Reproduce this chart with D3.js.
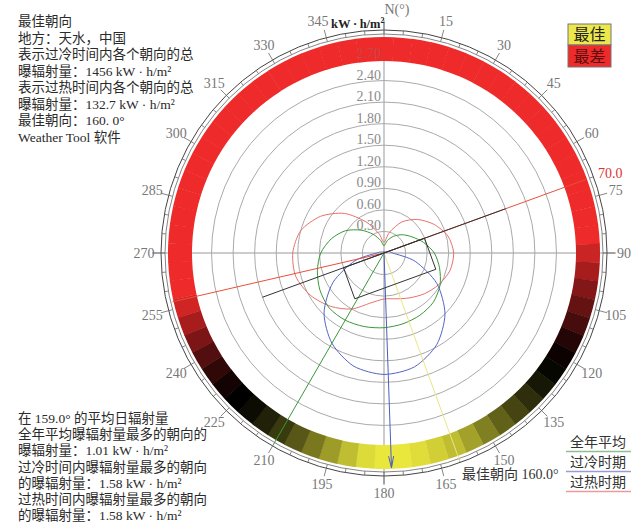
<!DOCTYPE html>
<html>
<head>
<meta charset="utf-8">
<script src="https://cdn.jsdelivr.net/npm/d3@7"></script>
<style>
  body { margin: 0; background: #fff; }
  svg text { font-family: "Liberation Serif", "Noto Sans CJK SC", serif; }
</style>
</head>
<body>
<script>
// ring values (kW·h/m²) and their labels
var ringValues = [0.3, 0.6, 0.9, 1.2, 1.5, 1.8, 2.1, 2.4, 2.7];
var ringLabels = ["0.30", "0.60", "0.90", "1.20", "1.50", "1.80", "2.10", "2.40", "2.70"];

// compass labels every 15 degrees
var compassAngles = [0, 15, 30, 45, 60, 75, 90, 105, 120, 135, 150, 165, 180, 195, 210, 225, 240, 255, 270, 285, 300, 315, 330, 345];
var compassLabels = ["N(°)", "15", "30", "45", "60", "75", "90", "105", "120", "135", "150", "165", "180", "195", "210", "225", "240", "255", "270", "285", "300", "315", "330", "345"];

// radiation curves, one value every 15 degrees (same angles as compassAngles)
var annualAvg = [0.10, 0.18, 0.27, 0.36, 0.45, 0.57, 0.70, 0.80, 0.90, 0.97, 1.00, 1.02, 1.04, 1.06, 1.08, 1.08, 1.03, 0.96, 0.88, 0.76, 0.62, 0.45, 0.30, 0.18];
var underheated = [0.02, 0.02, 0.02, 0.02, 0.03, 0.08, 0.12, 0.45, 0.85, 1.20, 1.47, 1.64, 1.69, 1.63, 1.45, 1.18, 0.82, 0.42, 0.10, 0.05, 0.03, 0.02, 0.02, 0.02];
var overheated = [0.15, 0.30, 0.50, 0.66, 0.80, 0.92, 0.97, 0.95, 0.88, 0.80, 0.72, 0.66, 0.64, 0.72, 0.90, 1.05, 1.18, 1.27, 1.27, 1.20, 1.02, 0.78, 0.50, 0.28];

// band score every 5 degrees: -1 worst (red) .. 0 .. 1 best (yellow)
var bandAngles = d3.range(0, 360, 5);
var bandScore = [
  -1, -1, -1, -1, -1, -1, -1, -1, -1, -1, -1, -1, -1, -1, -1, -1, -1, -1,
  -0.85, -0.7, -0.55, -0.42, -0.3, -0.15, -0.05, 0.03, 0.1, 0.2, 0.3, 0.42, 0.55, 0.7, 0.82, 0.9, 0.96, 1,
  1, 0.95, 0.82, 0.68, 0.52, 0.38, 0.25, 0.14, 0.05, 0, -0.08, -0.2, -0.35, -0.52, -0.7, -0.88,
  -1, -1, -1, -1, -1, -1, -1, -1, -1, -1, -1, -1, -1, -1, -1, -1, -1, -1, -1, -1
];

// directions (degrees)
var bestDir = 160;
var annualDir = 210;
var coldDir = 178;
var hotDirs = [70, 257];
var buildingAxis = 70;
var buildingHalf = 0.6, buildingDepth = 0.46, buildingLine = 1.8;

var width = 642, height = 524,
    cx = 384, cy = 253;

var svg = d3.select("body").append("svg")
    .attr("width", width)
    .attr("height", height);

var g = svg.append("g").attr("transform", "translate(" + cx + "," + cy + ")");

var r = d3.scaleLinear().domain([0, 2.7]).range([0, 194]);
var bandColor = d3.scaleLinear().domain([-1, 0, 1]).range(["#ee2a2a", "#000000", "#e9e63c"]);

function pt(deg, rad) {
  var a = deg * Math.PI / 180;
  return [rad * Math.sin(a), -rad * Math.cos(a)];
}

// axes
g.append("line").attr("x1", -232).attr("x2", 232).attr("y1", 0).attr("y2", 0)
    .attr("stroke", "#999").attr("stroke-width", 1);
g.append("line").attr("x1", 0).attr("x2", 0).attr("y1", -233).attr("y2", 232)
    .attr("stroke", "#999").attr("stroke-width", 1);

// grid rings
g.selectAll(".ring").data(ringValues).enter().append("circle")
    .attr("class", "ring")
    .attr("r", function(d) { return r(d); })
    .attr("fill", "none")
    .attr("stroke", "#aaa")
    .attr("stroke-width", 1);

// colour band
var arc = d3.arc().innerRadius(192).outerRadius(216);
g.selectAll(".seg").data(bandAngles).enter().append("path")
    .attr("class", "seg")
    .attr("d", function(d) {
      return arc({startAngle: (d - 2.5) * Math.PI / 180, endAngle: (d + 2.6) * Math.PI / 180});
    })
    .attr("fill", function(d, i) { return bandColor(bandScore[i]); });

// ring labels
g.selectAll(".rlab").data(ringValues).enter().append("text")
    .attr("x", -3)
    .attr("y", function(d) { return -r(d) - 1; })
    .attr("text-anchor", "end")
    .attr("font-size", "14px")
    .attr("fill", function(d) { return d >= 2.7 ? "#c84646" : "#8a8a8a"; })
    .text(function(d, i) { return ringLabels[i]; });

// outer scale
g.append("circle").attr("r", 219).attr("fill", "none").attr("stroke", "#666").attr("stroke-width", 0.8);
g.append("circle").attr("r", 223).attr("fill", "none").attr("stroke", "#444").attr("stroke-width", 1);
g.selectAll(".mtick").data(d3.range(0, 360, 5)).enter().append("line")
    .attr("x1", function(d) { return pt(d, 219)[0]; })
    .attr("y1", function(d) { return pt(d, 219)[1]; })
    .attr("x2", function(d) { return pt(d, d % 15 === 0 ? 231 : 223)[0]; })
    .attr("y2", function(d) { return pt(d, d % 15 === 0 ? 231 : 223)[1]; })
    .attr("stroke", "#666").attr("stroke-width", 0.8);

g.selectAll(".clab").data(compassAngles).enter().append("text")
    .attr("x", function(d) { return pt(d, 240)[0] + (d === 0 ? 13 : d === 345 ? -4 : 0); })
    .attr("y", function(d) { return pt(d, d === 0 ? 244 : 240)[1]; })
    .attr("text-anchor", "middle")
    .attr("dominant-baseline", "central")
    .attr("font-size", "14px")
    .attr("fill", "#777")
    .text(function(d, i) { return compassLabels[i]; });

// unit label
var unit = svg.append("text").attr("x", 331).attr("y", 28)
    .attr("font-size", "12.5px").attr("font-weight", "bold").attr("fill", "#222");
unit.append("tspan").text("kW\u2009·\u2009h/m");
unit.append("tspan").attr("font-size", "8px").attr("dy", -5).text("2");

// curves
var radial = d3.lineRadial()
    .angle(function(d, i) { return compassAngles[i] * Math.PI / 180; })
    .radius(function(d) { return r(d); })
    .curve(d3.curveCardinalClosed.tension(0.2));

g.append("path").attr("d", radial(overheated)).attr("fill", "none").attr("stroke", "#e8706a").attr("stroke-width", 1);
g.append("path").attr("d", radial(annualAvg)).attr("fill", "none").attr("stroke", "#3a983a").attr("stroke-width", 1);
g.append("path").attr("d", radial(underheated)).attr("fill", "none").attr("stroke", "#5564c4").attr("stroke-width", 1);

// rays
function ray(deg, len, color) {
  var p = pt(deg, len);
  return g.append("line").attr("x1", 0).attr("y1", 0).attr("x2", p[0]).attr("y2", p[1])
      .attr("stroke", color).attr("stroke-width", 1);
}
ray(hotDirs[0], 215, "#e8503c");
ray(hotDirs[1], 217, "#e8503c");
ray(annualDir, 220, "#3a983a");
ray(bestDir, 222, "#ece488");
ray(coldDir, 215, "#4a5ec0");

// arrow head on the cold ray
var tip = pt(coldDir, 215);
var ah1 = pt(coldDir + 180 - 12, 12), ah2 = pt(coldDir + 180 + 12, 12);
g.append("path")
    .attr("d", "M" + (tip[0] + ah1[0]) + "," + (tip[1] + ah1[1]) + "L" + tip[0] + "," + tip[1] +
               "L" + (tip[0] + ah2[0]) + "," + (tip[1] + ah2[1]))
    .attr("fill", "none").attr("stroke", "#4a5ec0").attr("stroke-width", 1);

// building symbol
var b1 = pt(buildingAxis, r(buildingLine)), b2 = pt(buildingAxis + 180, r(buildingLine));
g.append("line").attr("x1", b2[0]).attr("y1", b2[1]).attr("x2", b1[0]).attr("y2", b1[1])
    .attr("stroke", "#333").attr("stroke-width", 1);
var c1 = pt(buildingAxis + 180, r(buildingHalf)), c2 = pt(buildingAxis, r(buildingHalf)),
    off = pt(buildingAxis + 90, r(buildingDepth));
var rect = [c1, c2, [c2[0] + off[0], c2[1] + off[1]], [c1[0] + off[0], c1[1] + off[1]]];
g.append("path").attr("d", d3.line()(rect) + "Z")
    .attr("fill", "none").attr("stroke", "#333").attr("stroke-width", 1);

// labels near the circle
var hp = pt(hotDirs[0], 232);
svg.append("text").attr("x", cx + hp[0] - 4).attr("y", cy + hp[1] + 4)
    .attr("font-size", "14px").attr("fill", "#e03232").text("70.0");
svg.append("text").attr("x", 462).attr("y", 479)
    .attr("font-size", "14px").attr("fill", "#333").text("最佳朝向 160.0°");

// top-left notes
var notes = ["最佳朝向", "地方：天水，中国", "表示过冷时间内各个朝向的总", "曝辐射量：1456 kW · h/m²",
             "表示过热时间内各个朝向的总", "曝辐射量：132.7 kW · h/m²", "最佳朝向：160. 0°", "Weather Tool 软件"];
svg.selectAll(".note").data(notes).enter().append("text")
    .attr("x", 18).attr("y", function(d, i) { return 26 + i * 16.5; })
    .attr("font-size", "13.5px").attr("fill", "#2a2a2a")
    .text(function(d) { return d; });

// bottom-left notes
var notes2 = ["在 159.0°  的平均日辐射量", "全年平均曝辐射量最多的朝向的", "曝辐射量：1.01 kW · h/m²",
              "过冷时间内曝辐射量最多的朝向", "的曝辐射量：1.58 kW · h/m²", "过热时间内曝辐射量最多的朝向",
              "的曝辐射量：1.58 kW · h/m²"];
svg.selectAll(".note2").data(notes2).enter().append("text")
    .attr("x", 18).attr("y", function(d, i) { return 423 + i * 16.2; })
    .attr("font-size", "13.5px").attr("fill", "#2a2a2a")
    .text(function(d) { return d; });

// best / worst legend
svg.append("rect").attr("x", 568).attr("y", 24).attr("width", 43).attr("height", 21)
    .attr("fill", "#ece74a").attr("stroke", "#777");
svg.append("rect").attr("x", 568).attr("y", 45).attr("width", 43).attr("height", 22)
    .attr("fill", "#ee2a2a").attr("stroke", "#777");
svg.append("text").attr("x", 589.5).attr("y", 40).attr("text-anchor", "middle")
    .attr("font-size", "16px").attr("fill", "#222").text("最佳");
svg.append("text").attr("x", 589.5).attr("y", 62).attr("text-anchor", "middle")
    .attr("font-size", "16px").attr("fill", "#5a1010").text("最差");

// series legend
var legendNames = ["全年平均", "过冷时期", "过热时期"];
var legendColors = ["#8fbf8f", "#9a9ad6", "#ec9a9a"];
var lg = svg.selectAll(".lg").data(legendNames).enter().append("g")
    .attr("transform", function(d, i) { return "translate(598," + (447 + i * 20) + ")"; });
lg.append("text").attr("text-anchor", "middle").attr("y", 0)
    .attr("font-size", "14px").attr("fill", "#333").text(function(d) { return d; });
lg.append("line").attr("x1", -32).attr("x2", 33).attr("y1", 4.5).attr("y2", 4.5)
    .attr("stroke", function(d, i) { return legendColors[i]; }).attr("stroke-width", 1.5);
</script>
</body>
</html>
